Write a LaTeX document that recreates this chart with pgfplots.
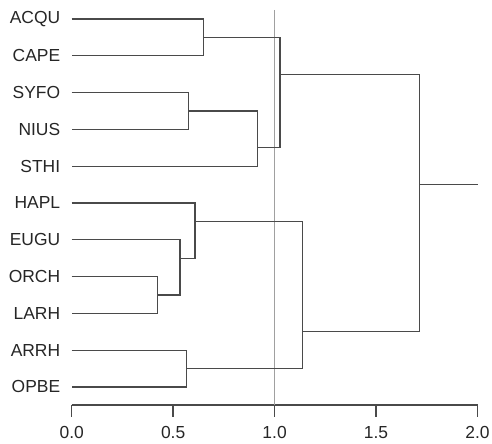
\documentclass[border=0pt]{standalone}
\usepackage{pgfplots}
\pgfplotsset{compat=1.18}
\usepackage{fontspec}
\setmainfont{Liberation Sans}

\definecolor{dendro}{HTML}{4A4A4A}
\definecolor{refline}{HTML}{A0A0A0}
\tikzset{link/.style={draw=dendro, line width=1.3pt, solid, mark=none}}

\begin{document}
\begin{tikzpicture}
\useasboundingbox (-71.7bp,-39bp) rectangle (420.3bp,405bp);
\begin{axis}[
    scale only axis,
    width=405.8bp, height=395bp,
    xmin=0, xmax=2,
    ymin=-11.49, ymax=-0.755,
    axis x line*=bottom,
    axis y line*=left,
    x axis line style={-, draw=dendro, line width=1.3pt},
    y axis line style={draw=none},
    xtick={0,0.5,1,1.5,2},
    xticklabel style={/pgf/number format/fixed, /pgf/number format/fixed zerofill,
      /pgf/number format/precision=1, /pgf/number format/assume math mode=true,
      yshift=-6bp},
    tick align=outside,
    xtick style={draw=dendro, line width=1.5pt},
    major tick length=12bp,
    ytick={-1,-2,-3,-4,-5,-6,-7,-8,-9,-10,-11},
    yticklabels={ACQU,CAPE,SYFO,NIUS,STHI,HAPL,EUGU,ORCH,LARH,ARRH,OPBE},
    ytick style={draw=none},
    tick label style={font=\fontsize{17.5}{21}\selectfont, text=black!85},
    yticklabel style={xshift=4bp},
    clip=false,
  ]
  % reference line at 1.0
  \addplot[draw=refline, line width=1.4pt, mark=none] coordinates {(1,-0.755) (1,-11.49)};

  % upper group
  \addplot[link] coordinates {(0,-1) (0.649,-1) (0.649,-2) (0,-2)};
  \addplot[link] coordinates {(0,-3) (0.575,-3) (0.575,-4) (0,-4)};
  \addplot[link] coordinates {(0.575,-3.5) (0.917,-3.5) (0.917,-5) (0,-5)};
  \addplot[link] coordinates {(0.649,-1.5) (1.027,-1.5) (1.027,-4.5) (0.917,-4.5)};

  % lower group
  \addplot[link] coordinates {(0,-8) (0.422,-8) (0.422,-9) (0,-9)};
  \addplot[link] coordinates {(0,-7) (0.534,-7) (0.534,-8.5) (0.422,-8.5)};
  \addplot[link] coordinates {(0,-6) (0.608,-6) (0.608,-7.5) (0.534,-7.5)};
  \addplot[link] coordinates {(0,-10) (0.567,-10) (0.567,-11) (0,-11)};
  \addplot[link] coordinates {(0.608,-6.5) (1.137,-6.5) (1.137,-10.5) (0.567,-10.5)};

  % root
  \addplot[link] coordinates {(1.027,-2.5) (1.715,-2.5) (1.715,-9.5) (1.137,-9.5)};
  \addplot[link] coordinates {(1.715,-5.5) (2.0,-5.5)};
\end{axis}
\end{tikzpicture}
\end{document}
